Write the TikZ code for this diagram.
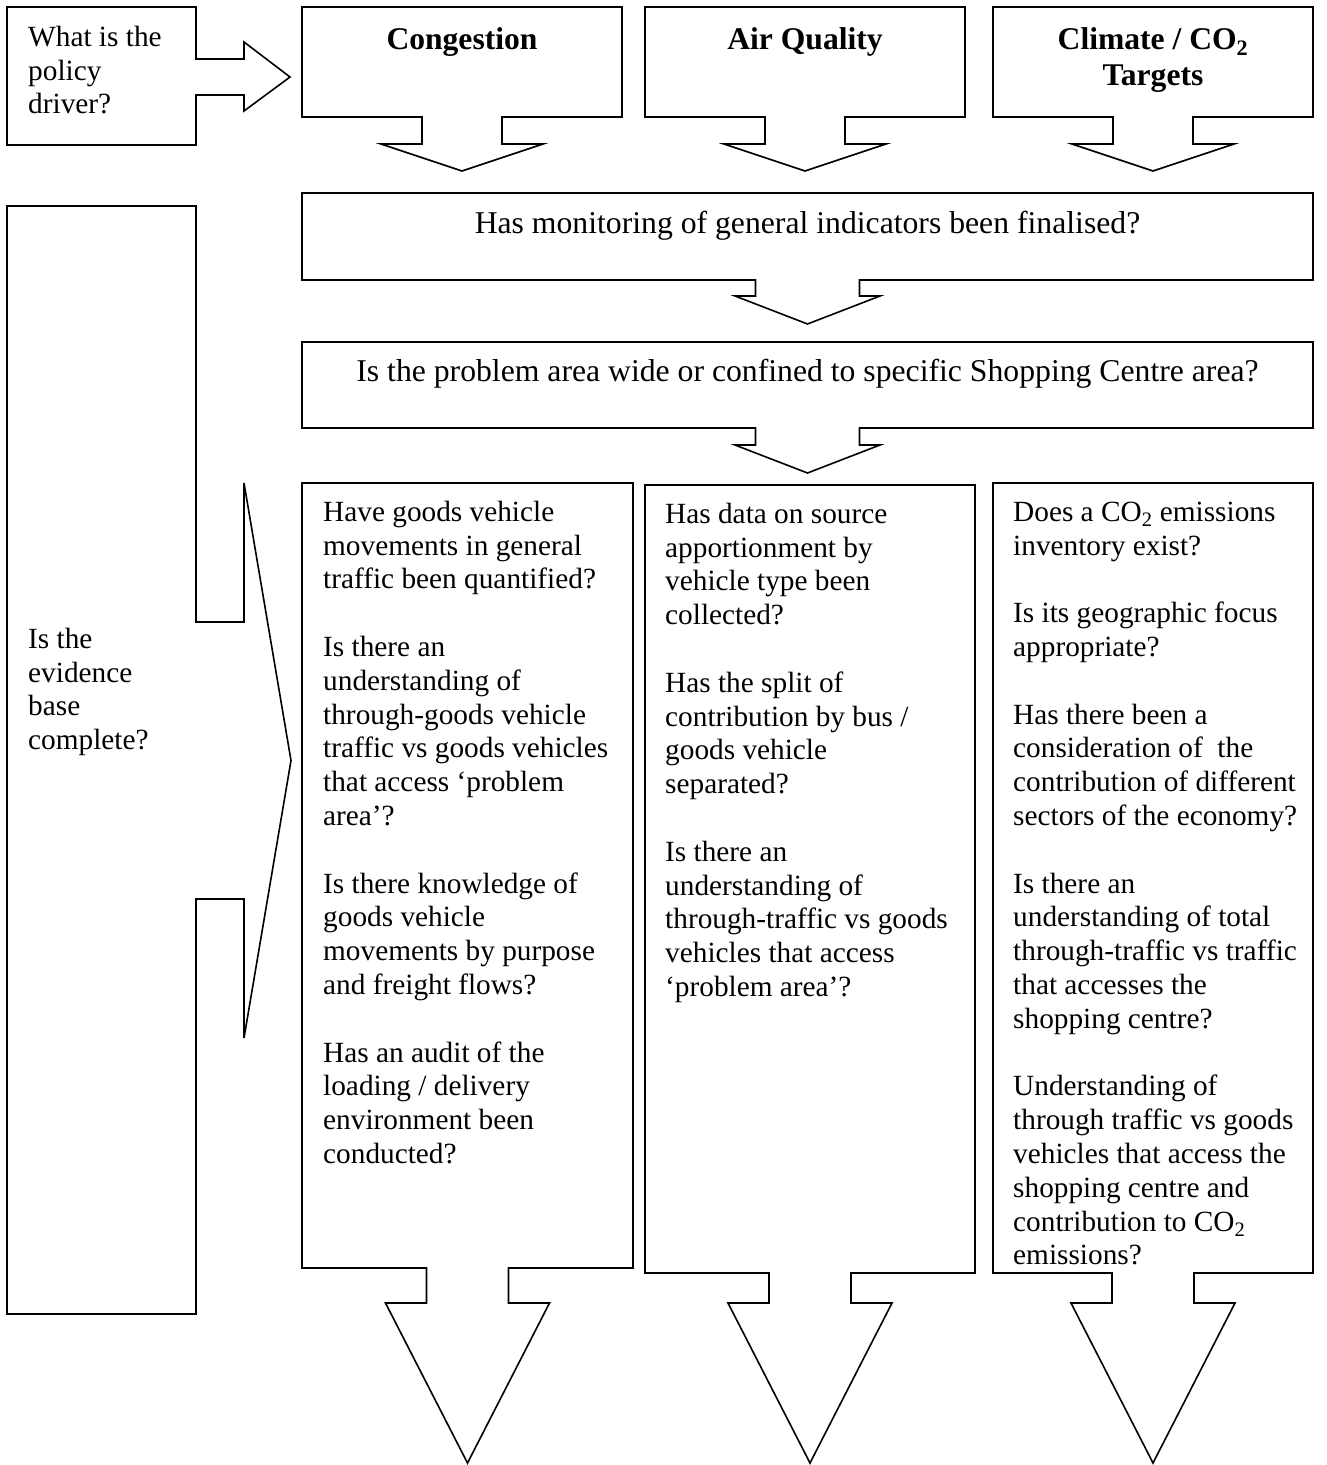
\documentclass[tikz,border=0pt]{standalone}
\usepackage{fontspec}
\setmainfont{Liberation Serif}

% text sizes used in the chart
\newcommand\bodyfont{\fontsize{29.3}{33.8}\selectfont}
\newcommand\midfont{\fontsize{31.7}{36.5}\selectfont}
\newcommand\headfont{\fontsize{31.6}{36.6}\selectfont\bfseries}
% fixed-height strut so the first baseline of a block sits at a known depth
\newcommand\firststrut{\rule{0pt}{25pt}}
\newcommand\hstrut{\rule{0pt}{27pt}}

% box with a block arrow pointing down out of its lower edge
% #1,#2 = left, top; #3,#4 = right, bottom; #5 = stem half-width;
% #6 = head half-width; #7 = y of head base; #8 = y of tip
\newcommand\dcallout[8]{%
  \pgfmathsetmacro\cxmid{(#1+#3)/2}%
  \draw[outline] (#1,#2) -- (#3,#2) -- (#3,#4)
    -- ({\cxmid+#5},#4) -- ({\cxmid+#5},#7) -- ({\cxmid+#6},#7)
    -- (\cxmid,#8)
    -- ({\cxmid-#6},#7) -- ({\cxmid-#5},#7) -- ({\cxmid-#5},#4)
    -- (#1,#4) -- cycle;}

\begin{document}
\begin{tikzpicture}[x=1pt, y=-1pt,
  outline/.style={draw=black, line width=1.6pt, line join=miter},
  lefttext/.style={anchor=north west, inner sep=0pt, align=left, font=\bodyfont},
  headtext/.style={anchor=north, inner sep=0pt, align=center, font=\headfont},
  midtext/.style={anchor=base, inner sep=0pt, font=\midfont}]

\fill[white] (0,0) rectangle (1327,1465);
\useasboundingbox (0,0) rectangle (1327,1465);

% ---- policy driver callout, arrow pointing right ----
\draw[outline] (7,7) -- (196,7) -- (196,59) -- (244,59) -- (244,42)
  -- (290,77) -- (244,111) -- (244,95) -- (196,95) -- (196,145)
  -- (7,145) -- cycle;
\node[lefttext] (driver) at (28,21) {\firststrut What is the\\ policy\\ driver?};

% ---- the three policy drivers ----
\dcallout{302}{7}{622}{117}{40}{81}{144}{171}
\dcallout{645}{7}{965}{117}{40}{81}{144}{171}
\dcallout{993}{7}{1313}{117}{40}{81}{144}{171}
\node[headtext] (cong) at (462,22) {\hstrut Congestion};
\node[headtext] (airq) at (805,22) {\hstrut Air Quality};
\node[headtext] (clim) at (1153,22) {\hstrut Climate / CO\textsubscript{2}\\ Targets};

% ---- general questions ----
\dcallout{302}{193}{1313}{280}{52}{72.5}{296}{324}
\node[midtext] (mon) at (807.5,233) {Has monitoring of general indicators been finalised?};
\dcallout{302}{342}{1313}{428}{52}{72.5}{445}{473}
\node[midtext] (prob) at (807.5,381) {Is the problem area wide or confined to specific Shopping Centre area?};

% ---- evidence base callout, arrow pointing right ----
\draw[outline] (7,206) -- (196,206) -- (196,622) -- (244,622) -- (244,483)
  -- (291,760.5) -- (244,1038) -- (244,899) -- (196,899) -- (196,1314)
  -- (7,1314) -- cycle;
\node[lefttext] (evid) at (28,623) {\firststrut Is the\\ evidence\\ base\\ complete?};

% ---- detailed questions per driver ----
\dcallout{302}{483}{633}{1268}{41}{82}{1303}{1463}
\dcallout{645}{485}{975}{1273}{41}{82}{1303}{1463}
\dcallout{993}{483}{1313}{1273}{41}{82}{1303}{1463}

\node[lefttext] (qcong) at (323,496) {\firststrut Have goods vehicle\\
movements in general\\
traffic been quantified?\\[33.8pt]
Is there an\\
understanding of\\
through-goods vehicle\\
traffic vs goods vehicles\\
that access ‘problem\\
area’?\\[33.8pt]
Is there knowledge of\\
goods vehicle\\
movements by purpose\\
and freight flows?\\[33.8pt]
Has an audit of the\\
loading / delivery\\
environment been\\
conducted?};

\node[lefttext] (qair) at (665,498) {\firststrut Has data on source\\
apportionment by\\
vehicle type been\\
collected?\\[33.8pt]
Has the split of\\
contribution by bus /\\
goods vehicle\\
separated?\\[33.8pt]
Is there an\\
understanding of\\
through-traffic vs goods\\
vehicles that access\\
‘problem area’?};

\node[lefttext] (qclim) at (1013,496) {\firststrut Does a CO\textsubscript{2} emissions\\
inventory exist?\\[33.8pt]
Is its geographic focus\\
appropriate?\\[33.8pt]
Has there been a\\
consideration of\ \ the\\
contribution of different\\
sectors of the economy?\\[33.8pt]
Is there an\\
understanding of total\\
through-traffic vs traffic\\
that accesses the\\
shopping centre?\\[33.8pt]
Understanding of\\
through traffic vs goods\\
vehicles that access the\\
shopping centre and\\
contribution to CO\textsubscript{2}\\
emissions?};

\end{tikzpicture}
\end{document}
